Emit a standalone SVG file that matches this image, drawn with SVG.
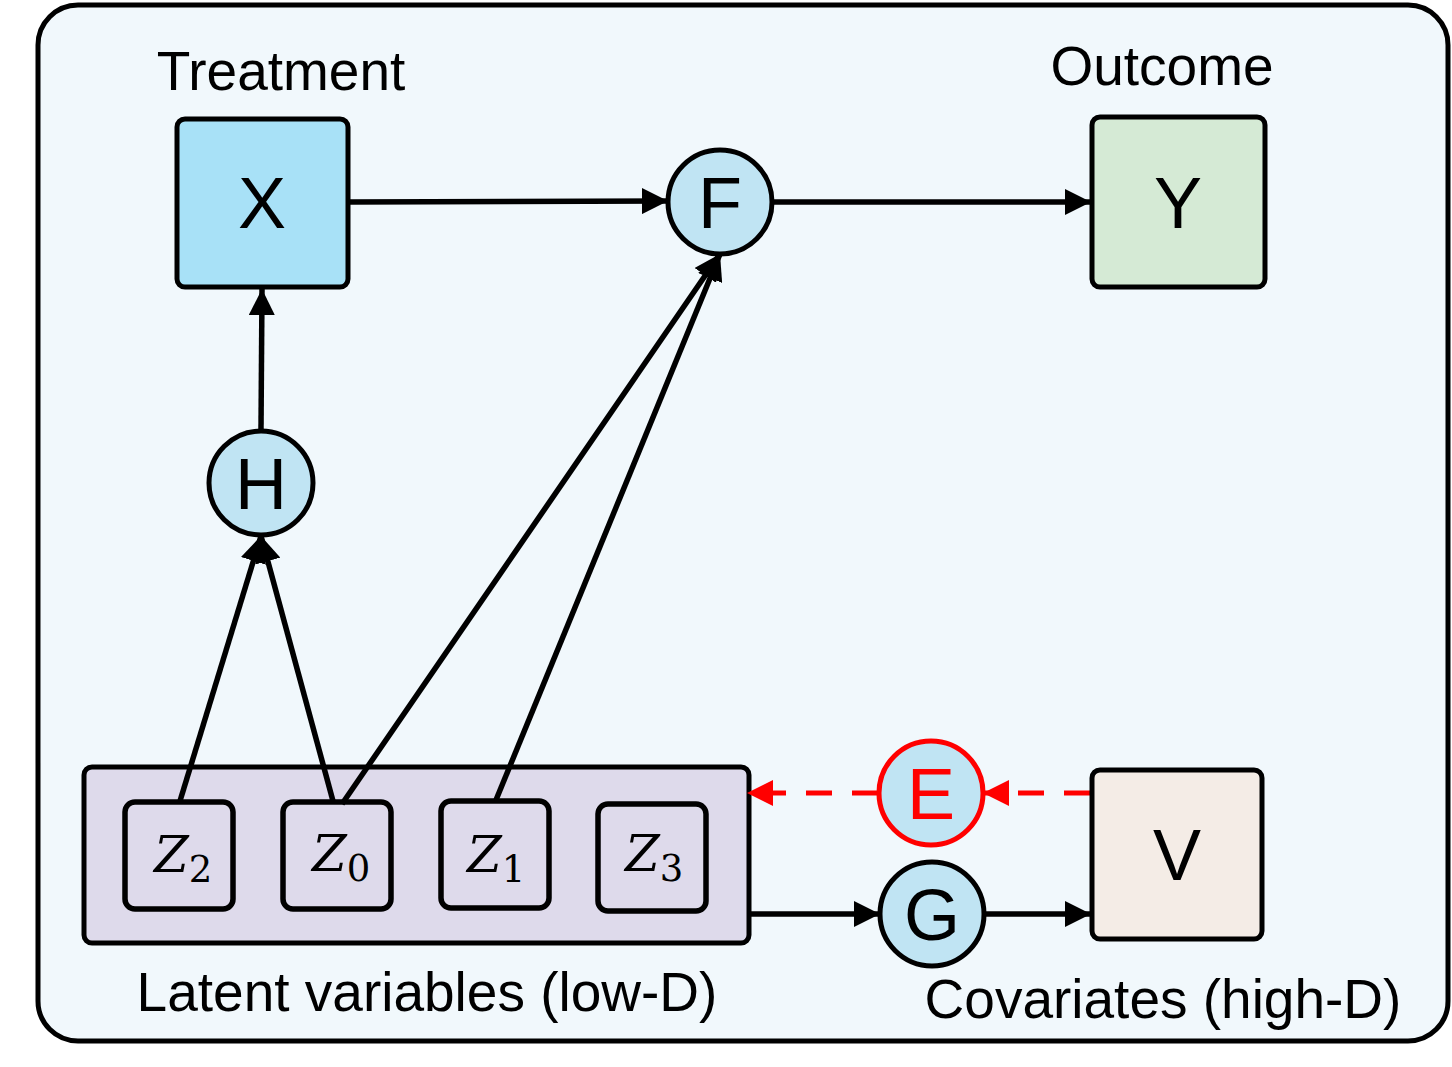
<svg xmlns="http://www.w3.org/2000/svg" width="1452" height="1067" viewBox="0 0 1452 1067">
<defs>
<style>
.sans{font-family:"Liberation Sans",Arial,sans-serif;fill:#000}
.lbl{font-size:55px}
.big{font-size:72px;text-anchor:middle}
.node{stroke:#000;stroke-width:5}
.zb{fill:none;stroke:#000;stroke-width:5.5}
.zt{font-family:"DejaVu Serif","Liberation Serif",serif;font-size:50px;font-style:italic;fill:#000}
.zs{font-family:"DejaVu Serif","Liberation Serif",serif;font-size:37px;font-style:normal}
.ln{stroke:#000;stroke-width:5.5;fill:none}
.dash{stroke:#f00;stroke-width:5;fill:none;stroke-dasharray:26,20}
</style>
<marker id="ahb" viewBox="0 0 26 26" refX="26" refY="13" markerWidth="26" markerHeight="26" orient="auto" markerUnits="userSpaceOnUse">
<path d="M0,0 L26,13 L0,26 Z" fill="#000"/>
</marker>
<marker id="ahr" viewBox="0 0 26 26" refX="26" refY="13" markerWidth="26" markerHeight="26" orient="auto" markerUnits="userSpaceOnUse">
<path d="M0,0 L26,13 L0,26 Z" fill="#f00"/>
</marker>
</defs>
<rect x="38" y="5" width="1410" height="1036" rx="40" fill="#F1F8FC" stroke="#000" stroke-width="5"/>
<g id="latent">
<rect x="84" y="767" width="665" height="176" rx="8" fill="#DEDAEB" class="node"/>
<text x="427" y="1011" text-anchor="middle" class="sans lbl">Latent variables (low-D)</text>
</g>
<g id="z2"><rect x="125" y="802" width="108" height="107" rx="10" class="zb"/><text x="154" y="872" class="zt">Z<tspan class="zs" dy="10">2</tspan></text></g>
<g id="z0"><rect x="283" y="802" width="108" height="107" rx="10" class="zb"/><text x="312" y="871" class="zt">Z<tspan class="zs" dy="10">0</tspan></text></g>
<g id="z1"><rect x="441" y="801" width="108" height="107" rx="10" class="zb"/><text x="467" y="872" class="zt">Z<tspan class="zs" dy="10">1</tspan></text></g>
<g id="z3"><rect x="598" y="804" width="108" height="107" rx="10" class="zb"/><text x="625" y="871" class="zt">Z<tspan class="zs" dy="10">3</tspan></text></g>
<g id="connectors">
<line x1="349" y1="202" x2="668" y2="201" class="ln" marker-end="url(#ahb)"/>
<line x1="772" y1="202" x2="1091" y2="202" class="ln" marker-end="url(#ahb)"/>
<line x1="261" y1="429" x2="262" y2="289" class="ln" marker-end="url(#ahb)"/>
<line x1="180" y1="801" x2="261" y2="536" class="ln" marker-end="url(#ahb)"/>
<line x1="333" y1="801" x2="261" y2="536" class="ln" marker-end="url(#ahb)"/>
<line x1="342" y1="804" x2="720" y2="254" class="ln" marker-end="url(#ahb)"/>
<line x1="496" y1="800" x2="720" y2="254" class="ln" marker-end="url(#ahb)"/>
<line x1="750" y1="914" x2="880" y2="914" class="ln" marker-end="url(#ahb)"/>
<line x1="984" y1="914" x2="1091" y2="914" class="ln" marker-end="url(#ahb)"/>
<line x1="1090" y1="793" x2="983" y2="793" class="dash" marker-end="url(#ahr)"/>
<line x1="878" y1="793" x2="747" y2="793" class="dash" marker-end="url(#ahr)"/>
</g>
<g id="x"><rect x="177" y="119" width="171" height="168" rx="8" fill="#A8E1F7" class="node"/><text x="262" y="228" class="sans big">X</text></g>
<g id="treatment"><text x="281" y="90" text-anchor="middle" class="sans lbl">Treatment</text></g>
<g id="outcome"><text x="1162" y="85" text-anchor="middle" class="sans lbl">Outcome</text></g>
<g id="y"><rect x="1092" y="117" width="173" height="170" rx="8" fill="#D5EAD5" class="node"/><text x="1178" y="228" class="sans big">Y</text></g>
<g id="f"><circle cx="720" cy="202" r="52" fill="#C0E4F3" class="node"/><text x="720" y="228" class="sans big">F</text></g>
<g id="h"><circle cx="261" cy="483" r="52" fill="#C0E4F3" class="node"/><text x="261" y="509" class="sans big">H</text></g>
<g id="e"><circle cx="931" cy="793" r="52" fill="#C0E4F3" stroke="#f00" stroke-width="5"/><text x="931" y="819" class="sans big" style="fill:#f00">E</text></g>
<g id="g"><circle cx="932" cy="914" r="52" fill="#C0E4F3" class="node"/><text x="932" y="940" class="sans big">G</text></g>
<g id="v"><rect x="1092" y="770" width="170" height="169" rx="8" fill="#F4ECE6" class="node"/><text x="1177" y="880" class="sans big">V</text></g>
<g id="covariates"><text x="1163" y="1018" text-anchor="middle" class="sans lbl">Covariates (high-D)</text></g>
</svg>
